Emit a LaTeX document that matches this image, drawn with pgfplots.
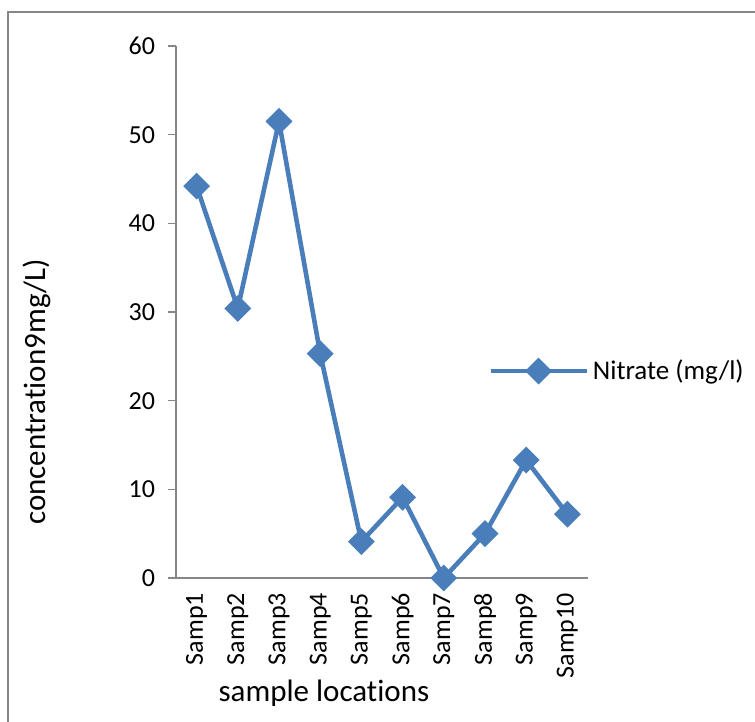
\documentclass[border=0pt]{standalone}
\usepackage{fontspec}
\setmainfont{Carlito}[Ligatures=NoCommon]
\usepackage{pgfplots}
\pgfplotsset{compat=1.18}
\definecolor{xlblue}{HTML}{4A7EBB}
\definecolor{axgray}{HTML}{868686}
\begin{document}
\begin{tikzpicture}
\path[use as bounding box] (0pt,0pt) rectangle (377.5pt,-361pt);
\draw[axgray,line width=1pt] (4pt,-361pt) -- (4pt,-6.25pt) -- (377.5pt,-6.25pt);
\begin{axis}[
  at={(88pt,-289pt)}, anchor=south west,
  scale only axis, width=206pt, height=266pt,
  xmin=0, xmax=10, ymin=0, ymax=60,
  axis x line*=bottom, axis y line*=left,
  axis line style={axgray, line width=0.8pt},
  /pgf/number format/assume math mode=true,
  font=\fontsize{13}{15}\selectfont,
  ytick={0,10,...,60},
  ytick style={axgray, line width=0.8pt},
  tick align=outside, major tick length=4pt,
  yticklabel style={xshift=-3pt},
  xtick={0.5,1.5,...,9.5},
  xticklabels={Samp1,Samp2,Samp3,Samp4,Samp5,Samp6,Samp7,Samp8,Samp9,Samp10},
  xtick style={draw=none},
  xticklabel style={rotate=90, anchor=east},
  extra x ticks={0,1,...,10},
  extra x tick labels={},
  extra x tick style={xtick style={axgray, line width=0.8pt}, major tick length=4pt},
  xlabel={sample locations},
  xlabel style={at={(axis description cs:0.359,-0.216)}, anchor=center, font=\fontsize{15.5}{18}\selectfont},
  ylabel={concentration9mg/L)},
  ylabel style={at={(axis description cs:-0.337,0.35)}, anchor=center, rotate=0, font=\fontsize{15.5}{18}\selectfont},
  legend style={draw=none, at={(axis description cs:0.757,0.389)}, anchor=west, font=\fontsize{13.5}{16}\selectfont, inner sep=0pt},
  legend cell align=left,
  legend image code/.code={\draw[#1] (0pt,0pt) -- (48pt,0pt); \draw[#1, mark repeat=2, mark phase=2] plot coordinates {(0pt,0pt) (24pt,0pt) (48pt,0pt)};},
  clip=false,
]
\addplot[color=xlblue, line width=2.3pt, mark=square*, mark size=3.6pt, mark options={rotate=45, solid}] coordinates {
(0.5,44.2) (1.5,30.4) (2.5,51.5) (3.5,25.3) (4.5,4.1) (5.5,9.1) (6.5,0.0) (7.5,5.0) (8.5,13.3) (9.5,7.2)
};
\addlegendentry{Nitrate (mg/l)}
\end{axis}
\end{tikzpicture}
\end{document}
